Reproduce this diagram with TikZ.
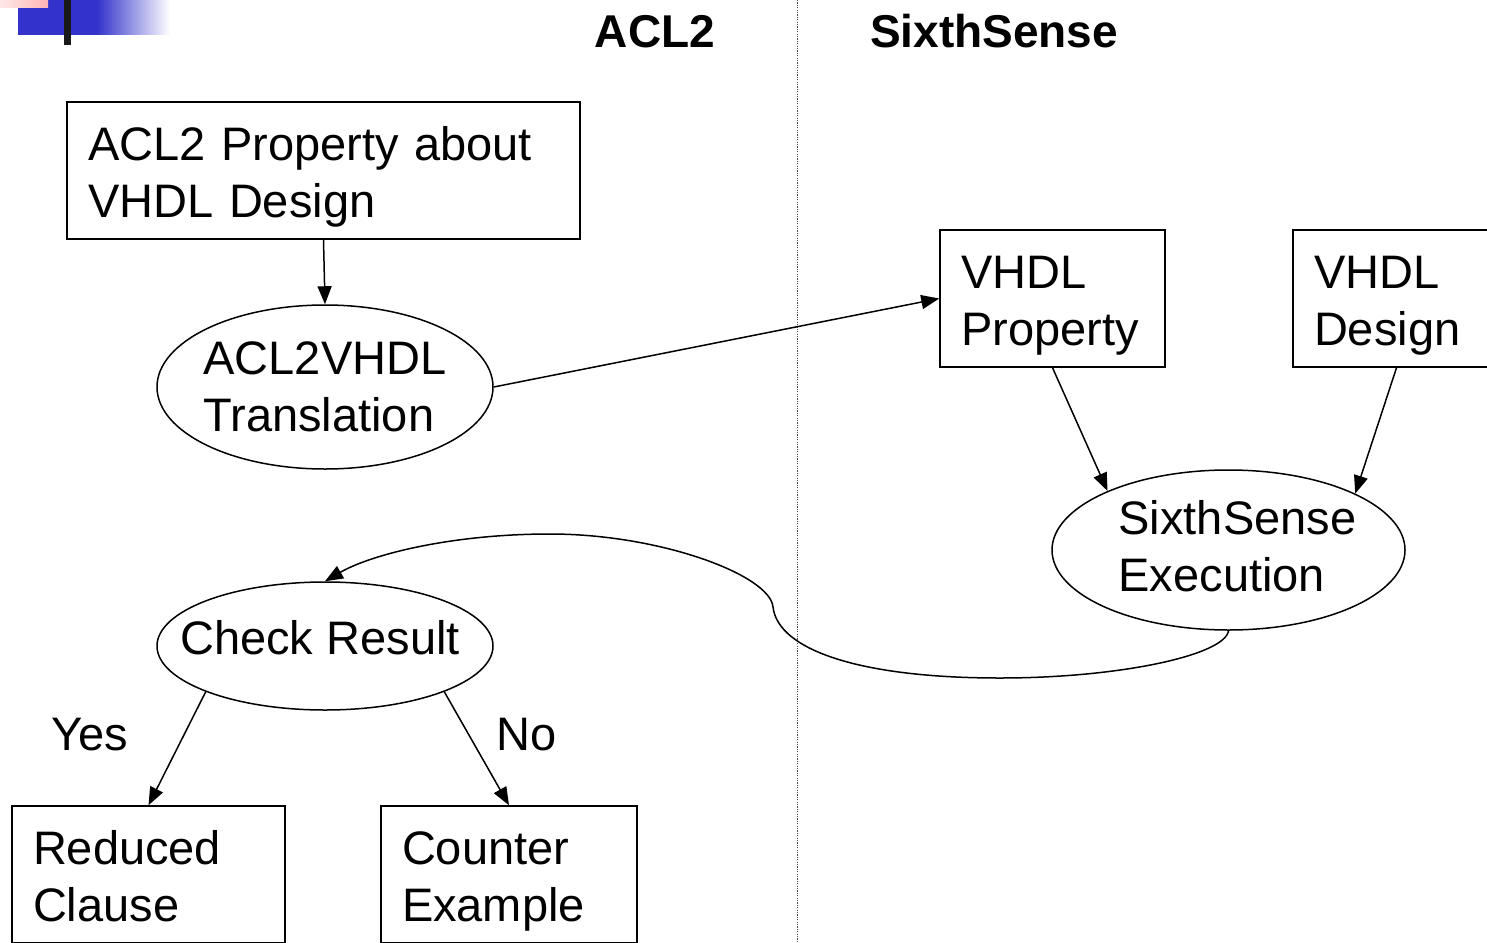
\documentclass[tikz,border=0pt]{standalone}
\usepackage{fontspec}
\setmainfont{Liberation Sans}
\usetikzlibrary{arrows.meta,shapes.geometric}
\newcommand{\topstrut}{\rule{0pt}{47pt}}
\newcommand{\botstrut}{\rule[-10pt]{0pt}{10pt}}
\begin{document}
\begin{tikzpicture}[x=1pt,y=-1pt,
  every node/.style={font=\fontsize{47}{57}\selectfont},
  box/.style={draw, line width=1.5pt, rectangle, minimum height=137pt, inner xsep=21pt, inner ysep=0pt, align=left},
  ell/.style={draw, line width=1.5pt, ellipse, inner sep=0pt},
  txt/.style={align=left, inner sep=0pt},
  ttl/.style={font=\fontsize{46}{50}\selectfont\bfseries, inner sep=0pt, anchor=base},
  arr/.style={line width=1.5pt, -{Triangle[length=18pt,width=14pt]}},
  divider/.style={line width=1pt, dash pattern=on 1.2pt off 1.2pt, black!70}
]
\useasboundingbox (0,0) rectangle (1487,942);
\clip (0,0) rectangle (1487,942);
% logo
\definecolor{logoblue}{HTML}{3333CC}
\definecolor{logopink}{HTML}{FFB4B4}
\fill[logoblue] (18,0) rectangle (97,35);
\shade[left color=logoblue, right color=white] (97,0) rectangle (170,35);
\shade[left color=logopink!30, right color=logopink] (0,0) rectangle (48,8);
\fill[black!90] (64,0) rectangle (71,45);
% divider
\coordinate (dtop) at (797,0);
\coordinate (dbot) at (797,942);
\draw[divider] (dtop) -- (dbot);
% titles
\node[ttl] (tacl) at (655,48) {ACL2};
\node[ttl] (tss) at (994,48) {SixthSense};
% boxes
\node[box, minimum width=513pt, text width=471pt] (prop) at (323.5,170.5) {\topstrut ACL2 Property about\\VHDL Design\botstrut};
\node[box, minimum width=225pt, text width=183pt] (vprop) at (1052.5,298.5) {\topstrut VHDL\\Property\botstrut};
\node[box, minimum width=207pt, text width=165pt] (vdes) at (1396.5,298.5) {\topstrut VHDL\\Design\botstrut};
\node[box, minimum width=273pt, text width=231pt] (rc) at (148.5,874.5) {\topstrut Reduced\\Clause\botstrut};
\node[box, minimum width=256pt, text width=214pt] (ce) at (509,874.5) {\topstrut Counter\\Example\botstrut};
% ellipses
\node[ell, minimum width=336pt, minimum height=164pt] (tr) at (325,387) {};
\node[txt] (trt) at (tr.center) {ACL2VHDL\\Translation};
\node[ell, minimum width=353pt, minimum height=160pt] (ex) at (1228.5,550) {};
\node[txt] (ext) at ([xshift=9pt,yshift=4pt]ex.center) {SixthSense\\Execution};
\node[ell, minimum width=336pt, minimum height=128pt] (cr) at (325,646) {};
\node[txt] (crt) at ([xshift=-5pt,yshift=8pt]cr.center) {Check Result};
% labels
\node (yes) at (90,735) {Yes};
\node (no) at (527,735) {No};
% connectors
\draw[arr] (prop.south) -- (tr.north);
\draw[arr] (tr.east) -- (vprop.west);
\draw[arr] (vprop.south) -- (ex.154);
\draw[arr] (vdes.south) -- (ex.24);
\draw[arr] (ex.south) .. controls (1225,655) and (1120,678) .. (1000,678)
  .. controls (860,678) and (778,650) .. (773,607)
  .. controls (770,575) and (660,534) .. (550,534)
  .. controls (450,534) and (370,555) .. (cr.north);
\draw[arr] (cr.201) -- (rc.north);
\draw[arr] (cr.339) -- (ce.north);
\end{tikzpicture}
\end{document}
